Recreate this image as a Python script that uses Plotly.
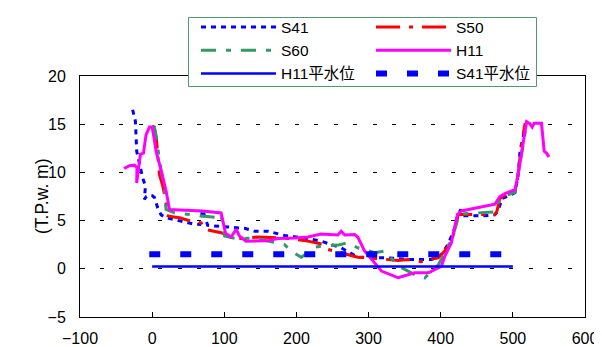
import plotly.graph_objects as go

# ---- data ----
s41_x = [-27, -23.2, -21.4, -17.6, -13, -9.3, -10.7, -8, -3.7, 0, 3.2, 7.8, 12.4, 19.3, 38, 56, 66, 70, 77, 91, 114, 128, 142, 160,
         183.6, 211, 234, 262, 285, 327, 354.6, 373, 387, 394, 401, 410, 419.5, 424, 427.8, 431, 460, 475, 479.6, 485, 489,
         502.8, 507, 510, 516]
s41_y = [16.5, 15.3, 12.2, 10.8, 9.4, 8.6, 7.2, 7.5, 7.65, 7.6, 7.4, 6.3, 5.6, 5.3, 4.95, 4.67, 4.6, 6.1, 4.5, 4.4, 4.25, 4.2, 3.9, 3.9,
         3.46, 3.2, 2.87, 2.18, 1.2, 1.14, 0.97, 0.97, 0.97, 1.14, 1.5, 2.5, 4.25, 5.6, 6.15, 5.5, 5.5, 5.6, 6.0, 7.3, 7.4,
         7.9, 9.5, 12.2, 14.3]

s50_x = [0, 3, 6, 10, 14.7, 18.4, 19.3, 19.6, 23, 38, 56, 68, 72.6, 95.6, 105, 114, 146.5, 188, 216, 239, 244, 262, 285, 299, 318,
         341, 355, 364, 373, 383, 396.5, 405.6, 414.8, 421.7, 424, 475, 478, 482, 489, 503, 507.4, 512, 517]
s50_y = [14.8, 14.7, 13.4, 9.8, 8.6, 7.4, 6.85, 5.6, 5.45, 5.3, 4.9, 4.77, 4.1, 3.74, 3.45, 3.1, 3.3, 3.15, 2.87, 2.5, 2.0, 1.66, 1.2,
         1.14, 1.04, 0.87, 0.97, 0.8, 0.73, 0.97, 1.14, 1.84, 2.87, 4.6, 5.64, 5.64, 6.0, 7.3, 7.6, 8.0, 9.8, 13.0, 15.1]

s60_x = [0, 3, 6, 11.5, 17, 19.3, 31, 75, 91, 95.6, 100.3, 118.8, 142, 151, 169.7, 183.6, 192.8, 206.6, 216, 225, 234, 257.6, 271.4,
         285, 294.6, 308.5, 322.4, 327, 341, 355, 365, 373, 378, 387, 396.5, 405.6, 414.8, 421.7, 424, 428.7, 475, 482, 503,
         507.4, 519]
s60_y = [14.7, 14.7, 13.6, 10.5, 8.5, 6.15, 5.8, 5.47, 5.3, 5.64, 3.4, 3.1, 3.2, 3.04, 2.75, 2.5, 1.84, 1.2, 1.66, 2.25, 2.35, 2.46, 2.7,
         2.18, 2.0, 1.66, 1.84, 1.5, 0.3, -0.3, -0.65, -0.76, -0.95, -0.24, 0.4, 1.66, 3.0, 4.6, 5.7, 5.7, 5.9, 7.37, 7.95,
         9.8, 15.1]

h11_x = [-39, -31.5, -24.6, -21, -21.4, -18.6, -16.2, -12, -8.5, -3.7, 0, 2.6, 5.4, 11.5, 19.3, 24, 70, 95.6, 101.7, 109.5, 116.4,
         121, 130, 160, 174, 197.5, 216, 234, 257.6, 262, 267, 280.7, 285, 294.6, 308.5, 318, 341, 354.6, 364, 378, 383, 396.5,
         401, 405.6, 414.8, 423, 428.7, 475, 482, 489, 503, 507.4, 519, 523.5, 526.8, 529.5, 539.7, 543.4, 546.6, 550]
h11_y = [10.4, 10.7, 10.75, 10.5, 8.9, 10.65, 11.9, 12.0, 13.9, 14.7, 14.7, 13.6, 12.2, 10.5, 8.1, 6.15, 6.0, 5.8, 3.7, 3.3, 4.1,
         3.4, 2.87, 2.9, 3.15, 3.2, 3.3, 3.6, 3.5, 3.9, 3.5, 3.56, 3.3, 1.84, 0.62, -0.24, -0.93, -0.59, -0.41, -0.41, -0.41, 0.1,
         0.28, 1.3, 2.7, 5.6, 6.0, 6.7, 7.5, 7.8, 8.2, 9.8, 15.25, 15.05, 14.7, 15.1, 15.1, 12.2, 12.0, 11.6]

h11_wl_x = [0, 500]
h11_wl_y = [0.25, 0.25]

s41_wl_x = [-4, 500]
s41_wl_y = [1.5, 1.5]

x_ticks = [-100, 0, 100, 200, 300, 400, 500, 600]
y_ticks = [-5, 0, 5, 10, 15, 20]

FONT = "Liberation Sans, Arial, Noto Sans CJK JP, sans-serif"

# plot area in pixels: left 72, right 577, top 68, bottom 309
PL, PR, PT, PB = 72, 577, 68, 309
def px2paper_x(px):
    return (px - PL) / (PR - PL)
def px2paper_y(py):
    return (PB - py) / (PB - PT)

fig = go.Figure()
fig.add_trace(go.Scatter(x=s41_x, y=s41_y, name="S41", mode="lines",
                         line=dict(color="#0000FF", width=3, dash="5px,5px")))
fig.add_trace(go.Scatter(x=s50_x, y=s50_y, name="S50", mode="lines",
                         line=dict(color="#FF0000", width=3, dash="24px,9px,4px,9px")))
fig.add_trace(go.Scatter(x=s60_x, y=s60_y, name="S60", mode="lines",
                         line=dict(color="#339966", width=3, dash="15px,10px,5px,10px")))
fig.add_trace(go.Scatter(x=h11_x, y=h11_y, name="H11", mode="lines",
                         line=dict(color="#FF00FF", width=3)))
fig.add_trace(go.Scatter(x=h11_wl_x, y=h11_wl_y, name="H11平水位", mode="lines",
                         line=dict(color="#0000FF", width=2.5)))
fig.add_trace(go.Scatter(x=s41_wl_x, y=s41_wl_y, name="S41平水位", mode="lines",
                         line=dict(color="#0000FF", width=6, dash="11px,20px")))

fig.update_layout(
    width=602, height=347,
    margin=dict(l=PL, r=602 - PR, t=PT, b=347 - PB, autoexpand=False),
    paper_bgcolor="white", plot_bgcolor="white",
    font=dict(family=FONT, size=16, color="black"),
    showlegend=True,
    legend=dict(orientation="h", x=px2paper_x(188), xanchor="left", y=px2paper_y(2.5), yanchor="top",
                borderwidth=0, bgcolor="rgba(0,0,0,0)",
                itemwidth=75, entrywidth=85, entrywidthmode="pixels",
                font=dict(family=FONT, size=15.5, color="black"), tracegroupgap=0),
    shapes=[dict(type="rect", xref="paper", yref="paper",
                 x0=px2paper_x(180.5), x1=px2paper_x(528.5), y0=px2paper_y(78.5), y1=px2paper_y(9.5),
                 line=dict(color="#4E9A6E", width=1), fillcolor="white", layer="above")],
    xaxis=dict(range=[-100, 600], tickvals=x_ticks, ticks="inside", ticklen=5, tickcolor="black",
               showline=True, linecolor="black", linewidth=1, mirror=True, showgrid=False, zeroline=False,
               ticklabelstandoff=7),
    yaxis=dict(range=[-5, 20], tickvals=y_ticks, ticks="inside", ticklen=5, tickcolor="black",
               showline=True, linecolor="black", linewidth=1, mirror=True, showgrid=True,
               gridcolor="black", gridwidth=1, griddash="4px,15.5px", zeroline=False,
               ticklabelstandoff=10),
    annotations=[dict(text="(T.P.w. m)", x=px2paper_x(22), y=px2paper_y(188), xref="paper", yref="paper",
                      textangle=-90, showarrow=False, font=dict(family=FONT, size=17.5, color="black"))],
)

fig.write_html("out.html")
